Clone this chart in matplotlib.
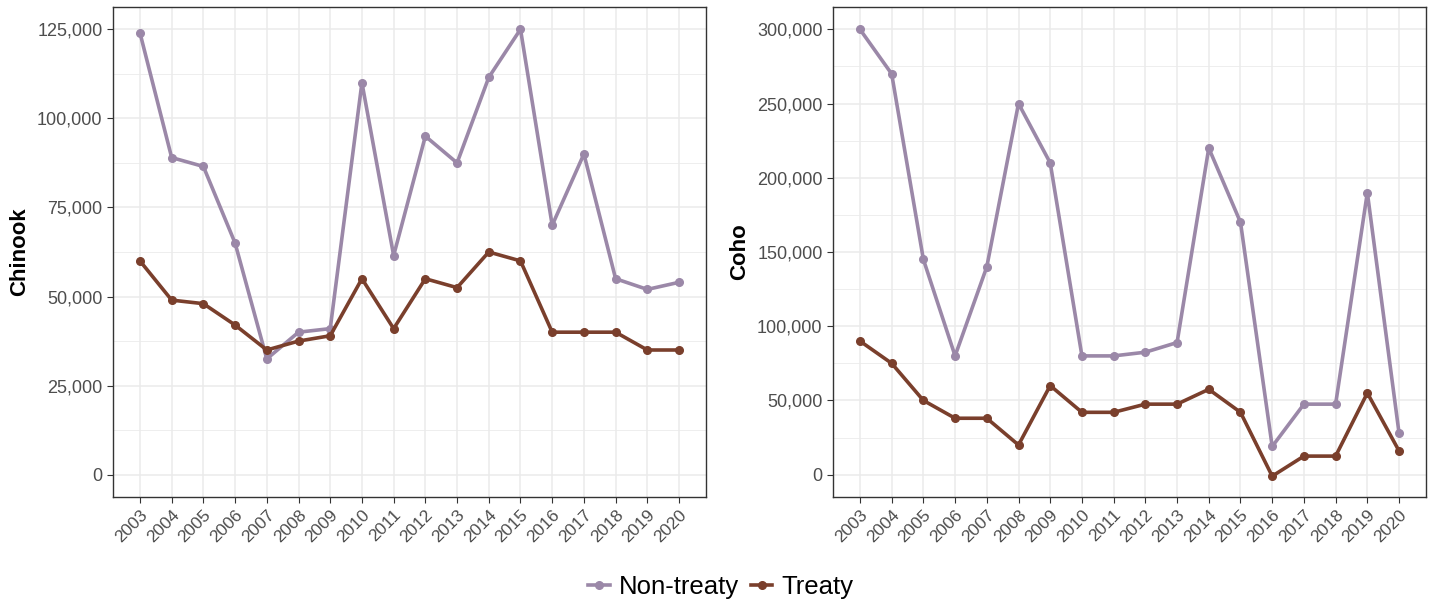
import matplotlib
matplotlib.use("Agg")
import matplotlib.pyplot as plt
from matplotlib.ticker import FuncFormatter, MultipleLocator
from matplotlib.lines import Line2D

plt.rcParams["font.family"] = ["Liberation Sans", "DejaVu Sans"]

years = list(range(2003, 2021))
chinook_nontreaty = [124000, 89000, 86500, 65000, 32500, 40000, 41000, 110000, 61500,
                     95000, 87500, 111500, 125000, 70000, 90000, 55000, 52000, 54000]
chinook_treaty = [60000, 49000, 48000, 42000, 35000, 37500, 39000, 55000, 41000,
                  55000, 52500, 62500, 60000, 40000, 40000, 40000, 35000, 35000]
coho_nontreaty = [300000, 270000, 145000, 80000, 140000, 250000, 210000, 80000, 80000,
                  82500, 89000, 220000, 170000, 19000, 47500, 47500, 190000, 28000]
coho_treaty = [90000, 75000, 50000, 38000, 38000, 20000, 60000, 42000, 42000,
               47500, 47500, 57500, 42000, -1000, 12500, 12500, 55000, 16000]
series_labels = ["Non-treaty", "Treaty"]
panel_titles = ["Chinook", "Coho"]

c_non = "#9B88A8"
c_tr = "#7A3F2C"

fig = plt.figure(figsize=(14.33, 6.02), dpi=100)
ax1 = fig.add_axes([113/1433, 1-497/602, (706-113)/1433, 490/602])
ax2 = fig.add_axes([833/1433, 1-497/602, (1426-833)/1433, 490/602])

fmt = FuncFormatter(lambda v, p: f"{int(v):,}")

def style(ax, non, tr, title, major, ylim):
    ax.plot(years, non, color=c_non, lw=2.6, marker="o", ms=5.5, zorder=3)
    ax.plot(years, tr, color=c_tr, lw=2.6, marker="o", ms=5.5, zorder=3)
    ax.set_xlim(2002.15, 2020.85)
    ax.set_ylim(*ylim)
    ax.set_xticks(years)
    ax.set_xticklabels([str(y) for y in years], rotation=45, ha="right",
                       rotation_mode="anchor", fontsize=12.5, color="#4D4D4D")
    ax.yaxis.set_major_locator(MultipleLocator(major))
    ax.yaxis.set_minor_locator(MultipleLocator(major/2))
    ax.yaxis.set_major_formatter(fmt)
    ax.tick_params(axis="y", labelsize=13, labelcolor="#4D4D4D", color="#333333", length=4)
    ax.tick_params(axis="x", color="#333333", length=4)
    ax.tick_params(axis="y", which="minor", length=0)
    ax.grid(True, which="major", color="#EBEBEB", lw=1.1, zorder=0)
    ax.grid(True, which="minor", axis="y", color="#EBEBEB", lw=0.6, zorder=0)
    ax.set_axisbelow(True)
    for s in ax.spines.values():
        s.set_color("#333333")
        s.set_linewidth(1.0)
    ax.set_ylabel(title, fontsize=16, fontweight="bold", color="black", labelpad=5)

style(ax1, chinook_nontreaty, chinook_treaty, panel_titles[0], 25000, (-6250, 131250))
style(ax2, coho_nontreaty, coho_treaty, panel_titles[1], 50000, (-15050, 315050))

handles = [Line2D([0], [0], color=c_non, lw=2.6, marker="o", ms=5.5),
           Line2D([0], [0], color=c_tr, lw=2.6, marker="o", ms=5.5)]
fig.legend(handles, series_labels, loc="center", bbox_to_anchor=(0.503, 1-587/602),
           ncol=2, frameon=False, fontsize=18.5, handlelength=0.85, handletextpad=0.35,
           columnspacing=0.45)

fig.savefig("out.png", dpi=100)
